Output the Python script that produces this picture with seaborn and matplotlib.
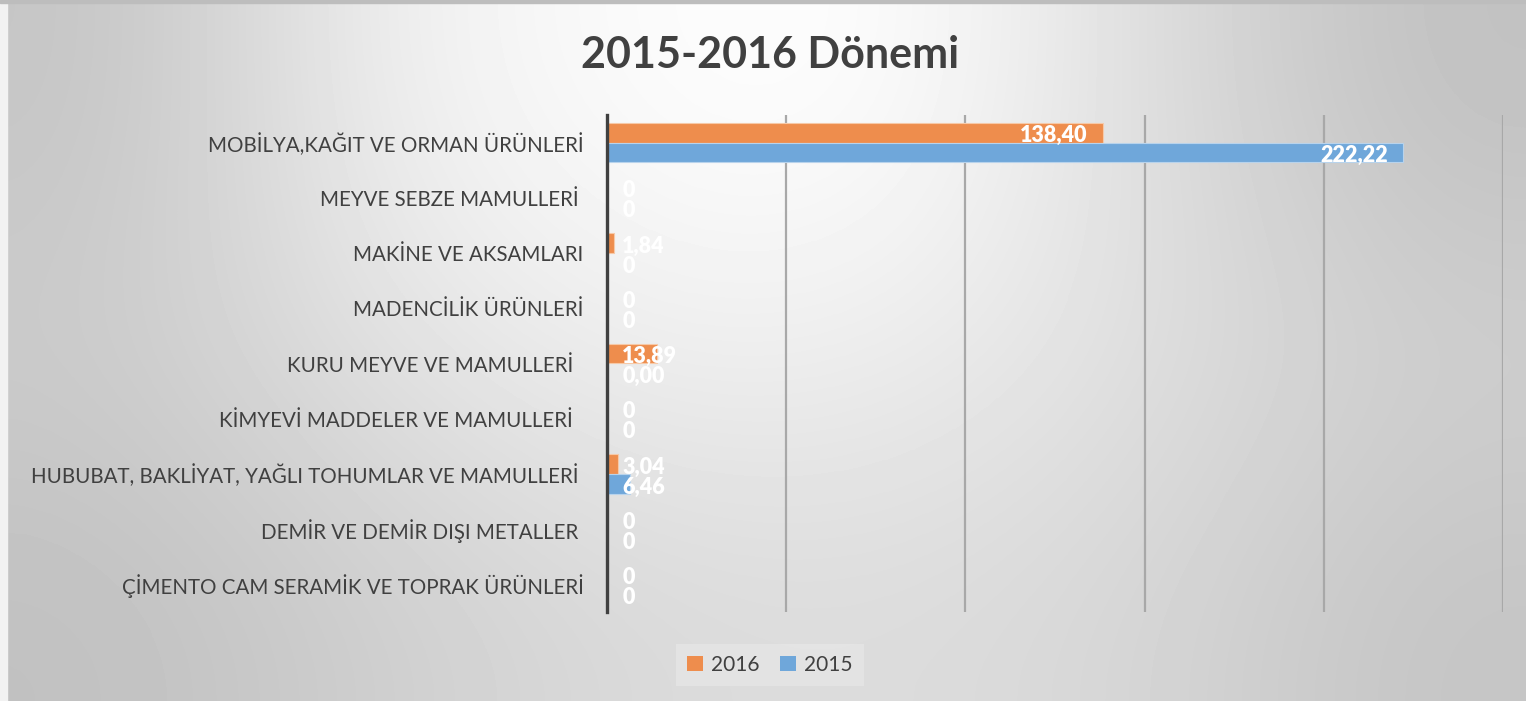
import numpy as np
import pandas as pd
import seaborn as sns
import matplotlib.pyplot as plt
from matplotlib.patches import Patch, Rectangle

# Kategorien (von oben nach unten)
kategorien = [
    'MOBİLYA,KAĞIT VE ORMAN ÜRÜNLERİ',
    'MEYVE SEBZE MAMULLERİ ',
    'MAKİNE VE AKSAMLARI',
    'MADENCİLİK ÜRÜNLERİ',
    'KURU MEYVE VE MAMULLERİ  ',
    'KİMYEVİ MADDELER VE MAMULLERİ  ',
    'HUBUBAT, BAKLİYAT, YAĞLI TOHUMLAR VE MAMULLERİ ',
    'DEMİR VE DEMİR DIŞI METALLER ',
    'ÇİMENTO CAM SERAMİK VE TOPRAK ÜRÜNLERİ',
]
werte_2016 = [138.40, 0, 1.84, 0, 13.89, 0, 3.04, 0, 0]
werte_2015 = [222.22, 0, 0, 0, 0.00, 0, 6.46, 0, 0]
labels_2016 = ['138,40', '0', '1,84', '0', '13,89', '0', '3,04', '0', '0']
labels_2015 = ['222,22', '0', '0', '0', '0,00', '0', '6,46', '0', '0']
jahre = ['2016', '2015']
farben = {'2016': '#EE8D4D', '2015': '#6FA7DA'}

df = pd.DataFrame({
    'kategorie': kategorien * 2,
    'wert': werte_2016 + werte_2015,
    'jahr': ['2016'] * len(kategorien) + ['2015'] * len(kategorien),
})

sns.set_theme(style='white')
plt.rcParams['font.family'] = ['Lato', 'DejaVu Sans']

fig = plt.figure(figsize=(15.26, 7.01), dpi=100)

# Hintergrund: grober Helligkeitsraster, weich interpoliert
raster = np.array([
    [196, 240, 252, 255, 222, 192],
    [204, 226, 240, 238, 224, 208],
    [192, 206, 218, 220, 214, 196],
])
bg = fig.add_axes([0, 0, 1, 1], zorder=-10)
bg.imshow(raster, cmap='gray', vmin=0, vmax=255, aspect='auto',
          interpolation='bicubic', extent=[0, 1, 0, 1])
bg.add_patch(Rectangle((0, 0), 7 / 1526, 1, color='#f2f2f2'))
bg.add_patch(Rectangle((0, 1 - 3 / 701), 1, 3 / 701, color='#bdbdbd'))
bg.set_xlim(0, 1)
bg.set_ylim(0, 1)
bg.axis('off')

ax = fig.add_axes([607 / 1526, 1 - 612 / 701, (1503 - 607) / 1526, (612 - 115) / 701])
ax.patch.set_alpha(0)

sns.barplot(data=df, x='wert', y='kategorie', hue='jahr', hue_order=jahre,
            order=kategorien, palette=farben, width=0.72, orient='h',
            edgecolor='#f6c9a8', linewidth=0.8, saturation=1, ax=ax, legend=False)
for bar in ax.patches[len(kategorien):]:
    bar.set_edgecolor('#b8d3ec')

ax.set_xlim(0, 250)
ax.set_xticks([50, 100, 150, 200, 250])
ax.set_xticklabels([])
ax.grid(axis='x', color='#a8a8a8', linewidth=1.6)
ax.set_axisbelow(True)
for s in ['top', 'right', 'bottom']:
    ax.spines[s].set_visible(False)
ax.spines['left'].set_color('#404040')
ax.spines['left'].set_linewidth(2.4)
ax.spines['left'].set_zorder(5)
ax.set_xlabel('')
ax.set_ylabel('')
ax.tick_params(axis='y', length=0, pad=17, labelsize=14.8, labelcolor='#404040')
ax.tick_params(axis='x', length=0)

# Datenbeschriftungen
for i, jahr in enumerate(jahre):
    werte = werte_2016 if jahr == '2016' else werte_2015
    texte = labels_2016 if jahr == '2016' else labels_2015
    for j, bar in enumerate(ax.patches[i * len(kategorien):(i + 1) * len(kategorien)]):
        yc = bar.get_y() + bar.get_height() / 2
        if werte[j] > 20:
            ax.annotate(texte[j], (werte[j], yc), xytext=(-11, -2.2), textcoords='offset points',
                        ha='right', va='center', color='white', fontsize=15.5, fontweight='heavy')
        else:
            ax.annotate(texte[j], (0, yc), xytext=(11, -2.2), textcoords='offset points',
                        ha='left', va='center', color='white', fontsize=15.5, fontweight='heavy')

fig.text(770 / 1526, 1 - 55 / 701, '2015-2016 Dönemi', ha='center', va='center',
         fontsize=31, fontweight='bold', color='#404040')

handles = [Patch(facecolor=farben[j], edgecolor='none', label=j) for j in jahre]
leg = fig.legend(handles=handles, loc='center', bbox_to_anchor=(770 / 1526, 1 - 665 / 701),
                 ncol=2, frameon=True, fontsize=15, handlelength=0.75, handleheight=0.75,
                 handletextpad=0.4, columnspacing=1.0, borderpad=0.55)
leg.get_frame().set_facecolor('#e6e6e6')
leg.get_frame().set_edgecolor('none')
leg.get_frame().set_boxstyle('square', pad=0)
for t in leg.get_texts():
    t.set_color('#404040')

fig.savefig('out.png', dpi=100)
